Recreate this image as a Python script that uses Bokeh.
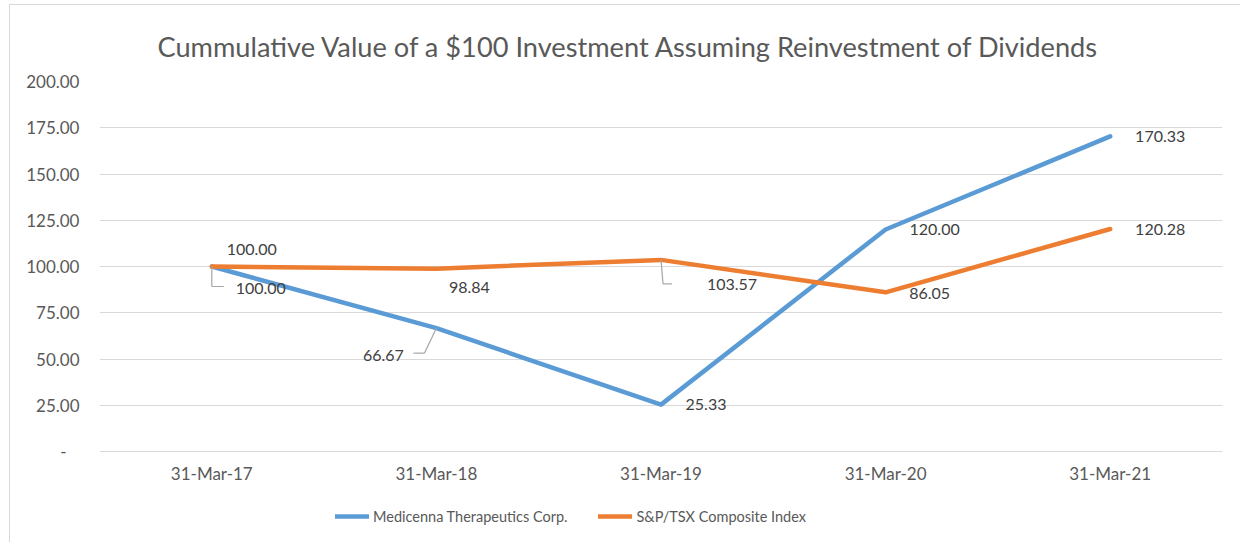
from bokeh.plotting import figure
from bokeh.models import (ColumnDataSource, FixedTicker, Legend, LegendItem,
                          CustomJSTickFormatter)
from bokeh.transform import dodge
from bokeh.embed import file_html
from bokeh.resources import INLINE
from bokeh.core.properties import value

# ---------------- data ----------------
dates = ["31-Mar-17", "31-Mar-18", "31-Mar-19", "31-Mar-20", "31-Mar-21"]
medicenna = [100.00, 66.67, 25.33, 120.00, 170.33]
sptsx = [100.00, 98.84, 103.57, 86.05, 120.28]
y_ticks = [0, 25, 50, 75, 100, 125, 150, 175, 200]
series_names = ["Medicenna Therapeutics Corp.", "S&P/TSX Composite Index"]
title_text = "Cummulative Value of a $100 Investment Assuming Reinvestment of Dividends"

# ---------------- styling / positions (screen px) ----------------
BLUE = "#5B9BD5"
ORANGE = "#ED7D31"
FONT = "Lato"
W, H = 1240, 542
B_LEFT, B_RIGHT, B_TOP, B_BOTTOM = 99, 18, 81, 2
PLOT_H = 370.0                 # pixel height of the 0..200 value band
FRAME_W = W - B_LEFT - B_RIGHT
FRAME_H = H - B_TOP - B_BOTTOM
Y_MAX = 200
y_ppu = PLOT_H / Y_MAX
Y_LOW = -(FRAME_H - PLOT_H) / y_ppu   # extra room under the axis for labels/legend
x_ppu = FRAME_W / len(dates)

med_dx = [49, -53, 45, 49, 50]
med_dy = [22, 27, 0, 0, 0]
sp_dx = [40, 33, 71, 44, 50]
sp_dy = [-17, 19, 25, 1, 1]

p = figure(x_range=dates, y_range=(Y_LOW, Y_MAX), width=W, height=H,
           output_backend="svg", toolbar_location=None,
           min_border_left=B_LEFT, min_border_right=B_RIGHT,
           min_border_top=B_TOP, min_border_bottom=B_BOTTOM,
           title=title_text)
p.x_range.range_padding = 0
p.styles = {"background":
            "linear-gradient(#d9d9d9,#d9d9d9) 9px 4px / 1px 100% no-repeat, "
            "linear-gradient(#d9d9d9,#d9d9d9) 9px 4px / 100% 1px no-repeat, white"}

p.title.align = "left"
p.title.offset = 58
p.title.text_font = FONT
p.title.text_font_size = "27.2px"
p.title.text_font_style = "normal"
p.title.text_color = "#595959"
p.title.standoff = 38

p.outline_line_color = None
p.background_fill_alpha = 0
p.border_fill_alpha = 0

p.xgrid.grid_line_color = None
p.ygrid.grid_line_color = "#D9D9D9"
p.ygrid.grid_line_width = 1.2
p.ygrid.ticker = FixedTicker(ticks=y_ticks)

p.yaxis.ticker = FixedTicker(ticks=y_ticks)
p.yaxis.formatter = CustomJSTickFormatter(code="""
    if (tick == 0) { return "-\\u00a0\\u00a0\\u00a0"; }
    return tick.toFixed(2);
""")
p.xaxis.fixed_location = 0
for ax in (p.xaxis, p.yaxis):
    ax.axis_line_color = None
    ax.major_tick_line_color = None
    ax.minor_tick_line_color = None
    ax.major_label_text_font = FONT
    ax.major_label_text_font_size = "17px"
    ax.major_label_text_color = "#595959"
p.yaxis.major_label_standoff = 14
p.xaxis.major_label_standoff = 5

src = ColumnDataSource(dict(x=dates, med=medicenna, sp=sptsx,
                            med_lbl=["%.2f" % v for v in medicenna],
                            sp_lbl=["%.2f" % v for v in sptsx],
                            med_dx=med_dx, med_dy=med_dy,
                            sp_dx=sp_dx, sp_dy=sp_dy))

r_med = p.line("x", "med", source=src, line_color=BLUE, line_width=4.5,
               line_cap="round", line_join="round")
r_sp = p.line("x", "sp", source=src, line_color=ORANGE, line_width=4.5,
              line_cap="round", line_join="round")

# leader lines (point -> label); pixel offsets converted through the scales
leaders = [
    (0, medicenna[0], [(0, 0), (0, 20), (12, 20)]),
    (1, medicenna[1], [(0, 0), (-12, 25), (-23, 25)]),
    (2, sptsx[2], [(0, 0), (2, 24), (11, 24)]),
]
for ci, yv, pts in leaders:
    for (a, b) in zip(pts[:-1], pts[1:]):
        s = ColumnDataSource(dict(
            x0=[dates[ci]], x1=[dates[ci]],
            y0=[yv - a[1] / y_ppu], y1=[yv - b[1] / y_ppu]))
        p.segment(x0=dodge("x0", a[0] / x_ppu, range=p.x_range),
                  x1=dodge("x1", b[0] / x_ppu, range=p.x_range),
                  y0="y0", y1="y1", source=s,
                  line_color="#A6A6A6", line_width=1.2)

p.text("x", "med", text="med_lbl", source=src, x_offset="med_dx", y_offset="med_dy",
       text_font=value(FONT), text_font_size="16px", text_color="#404040",
       text_align="center", text_baseline="middle")
p.text("x", "sp", text="sp_lbl", source=src, x_offset="sp_dx", y_offset="sp_dy",
       text_font=value(FONT), text_font_size="16px", text_color="#404040",
       text_align="center", text_baseline="middle")

legend = Legend(items=[LegendItem(label=series_names[0], renderers=[r_med]),
                       LegendItem(label=series_names[1], renderers=[r_sp])],
                location=(236, 14), orientation="horizontal",
                padding=0, margin=0, spacing=31,
                glyph_width=34, glyph_height=20, label_height=20,
                label_standoff=4, border_line_color=None,
                background_fill_alpha=0,
                label_text_font=FONT, label_text_font_size="14.5px",
                label_text_color="#595959")
p.add_layout(legend, "center")

open("out.html", "w").write(file_html(p, INLINE))
